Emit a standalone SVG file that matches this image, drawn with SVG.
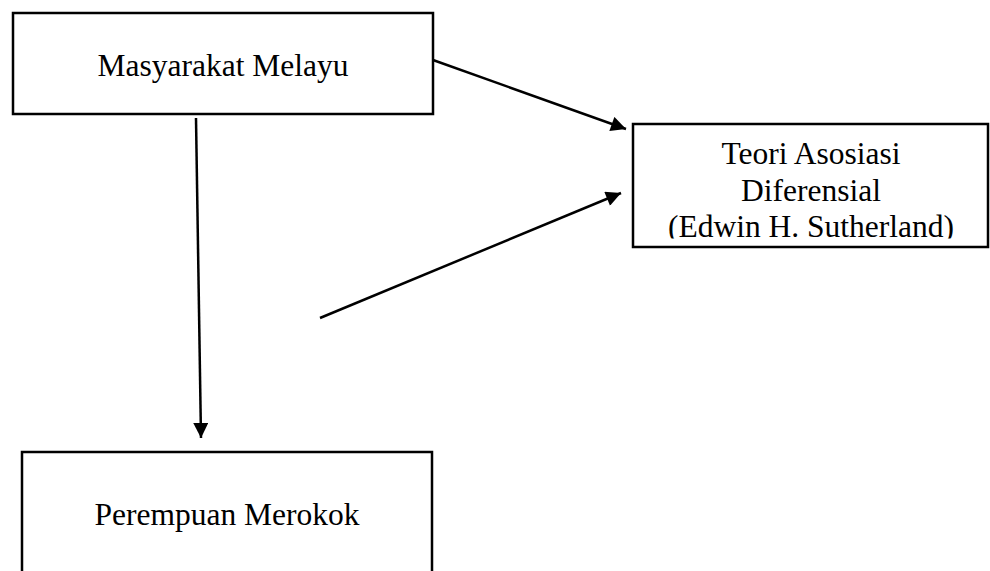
<svg xmlns="http://www.w3.org/2000/svg" width="990" height="571" viewBox="0 0 990 571">
<style>
.box{fill:#fff;stroke:#000;stroke-width:2.5}
.t{font-family:"Liberation Serif","Times New Roman",serif;font-size:31.5px;fill:#000;text-anchor:middle}
.c{stroke:#000;stroke-width:2.5;fill:none;marker-end:url(#ah)}
</style>
<defs>
<marker id="ah" viewBox="0 0 10 10" refX="10" refY="5" markerWidth="7" markerHeight="6" markerUnits="strokeWidth" orient="auto">
<path d="M0,0 L10,5 L0,10 Z" fill="#000"/>
</marker>
<clipPath id="clip2"><rect x="633" y="124" width="357" height="114.5"/></clipPath>
</defs>
<rect width="990" height="571" fill="#fff"/>
<g id="masyarakat">
<rect class="box" x="13" y="13" width="420" height="101"/>
<text class="t" x="223" y="76">Masyarakat Melayu</text>
</g>
<g id="teori">
<rect class="box" x="633" y="124" width="355" height="123"/>
<g clip-path="url(#clip2)">
<text class="t" x="811" y="164">Teori Asosiasi</text>
<text class="t" x="811" y="201">Diferensial</text>
<text class="t" x="811" y="237">(Edwin H. Sutherland)</text>
</g>
</g>
<g id="perempuan">
<rect class="box" x="22" y="452" width="410" height="140"/>
<text class="t" x="227" y="525">Perempuan Merokok</text>
</g>
<g id="connectors">
<line class="c" x1="433" y1="60" x2="626" y2="129"/>
<line class="c" x1="196" y1="118" x2="201" y2="438"/>
<line class="c" x1="320" y1="318" x2="621" y2="193"/>
</g>
</svg>
